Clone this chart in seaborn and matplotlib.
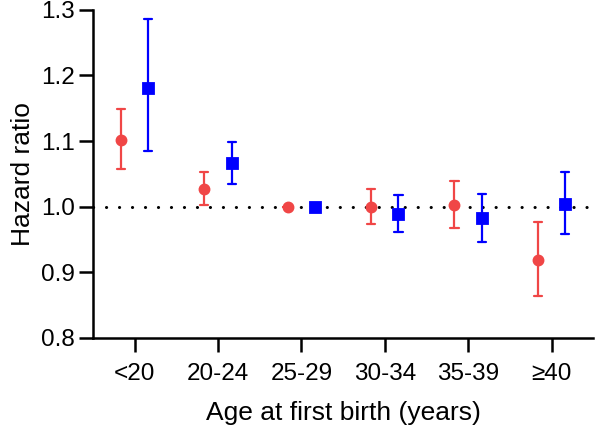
import numpy as np
import pandas as pd
import seaborn as sns
import matplotlib.pyplot as plt

# ---------------------------------------------------------------------------
# Data (hazard ratio with 95% CI)
# ---------------------------------------------------------------------------
age_groups = ["<20", "20-24", "25-29", "30-34", "35-39", "\u226540"]

red_hr = [1.102, 1.027, 1.000, 1.000, 1.002, 0.919]
red_lo = [1.057, 1.003, 1.000, 0.974, 0.967, 0.864]
red_hi = [1.149, 1.053, 1.000, 1.027, 1.039, 0.977]

blue_hr = [1.181, 1.066, 1.000, 0.989, 0.982, 1.004]
blue_lo = [1.085, 1.035, 1.000, 0.962, 0.946, 0.958]
blue_hi = [1.286, 1.098, 1.000, 1.017, 1.019, 1.053]

series_names = ["Model 1", "Model 2"]
colors = ["#F04646", "#0000FF"]


def long_frame(name, hr, lo, hi):
    """Three rows per group: median = HR, min/max = CI bounds."""
    rows = []
    for g, h, l, u in zip(age_groups, hr, lo, hi):
        for v in (l, h, u):
            rows.append({"group": g, "series": name, "hr": v})
    return rows


df = pd.DataFrame(
    long_frame(series_names[0], red_hr, red_lo, red_hi)
    + long_frame(series_names[1], blue_hr, blue_lo, blue_hi)
)

# ---------------------------------------------------------------------------
# Plot
# ---------------------------------------------------------------------------
sns.set_style("ticks")
plt.rcParams["font.family"] = ["Liberation Sans", "DejaVu Sans"]
plt.rcParams["text.color"] = "black"
plt.rcParams["axes.labelcolor"] = "black"
plt.rcParams["xtick.color"] = "black"
plt.rcParams["ytick.color"] = "black"

fig = plt.figure(figsize=(5.95, 4.26), dpi=100)
ax = fig.add_axes([0.156, 0.207, 0.841, 0.770])

ax.axhline(1.0, color="black", lw=2.2, ls=(0, (0.05, 4.2)),
           dash_capstyle="round", zorder=1)

sns.pointplot(
    data=df, x="group", y="hr", hue="series", order=age_groups,
    hue_order=series_names, palette=colors, estimator="median",
    errorbar=("pi", 100), dodge=0.33, linestyle="none",
    markers=["o", "s"], markersize=6.5, capsize=0.1,
    err_kws={"linewidth": 1.6}, legend=False, ax=ax,
)

ax.set_xlim(-0.5, 5.5)
ax.set_ylim(0.8, 1.3)
ax.set_yticks(np.arange(0.8, 1.31, 0.1))
ax.set_yticklabels([f"{v:.1f}" for v in np.arange(0.8, 1.31, 0.1)])

ax.set_xlabel("Age at first birth (years)", fontsize=19, labelpad=12)
ax.set_ylabel("Hazard ratio", fontsize=19, labelpad=4)
ax.tick_params(axis="both", labelsize=17.5, length=10, width=1.8,
               color="black", labelcolor="black", pad=3)
ax.tick_params(axis="x", pad=8)

for side in ["left", "bottom"]:
    ax.spines[side].set_linewidth(1.8)
    ax.spines[side].set_color("black")
sns.despine(ax=ax)

fig.savefig("out.png", dpi=100)
